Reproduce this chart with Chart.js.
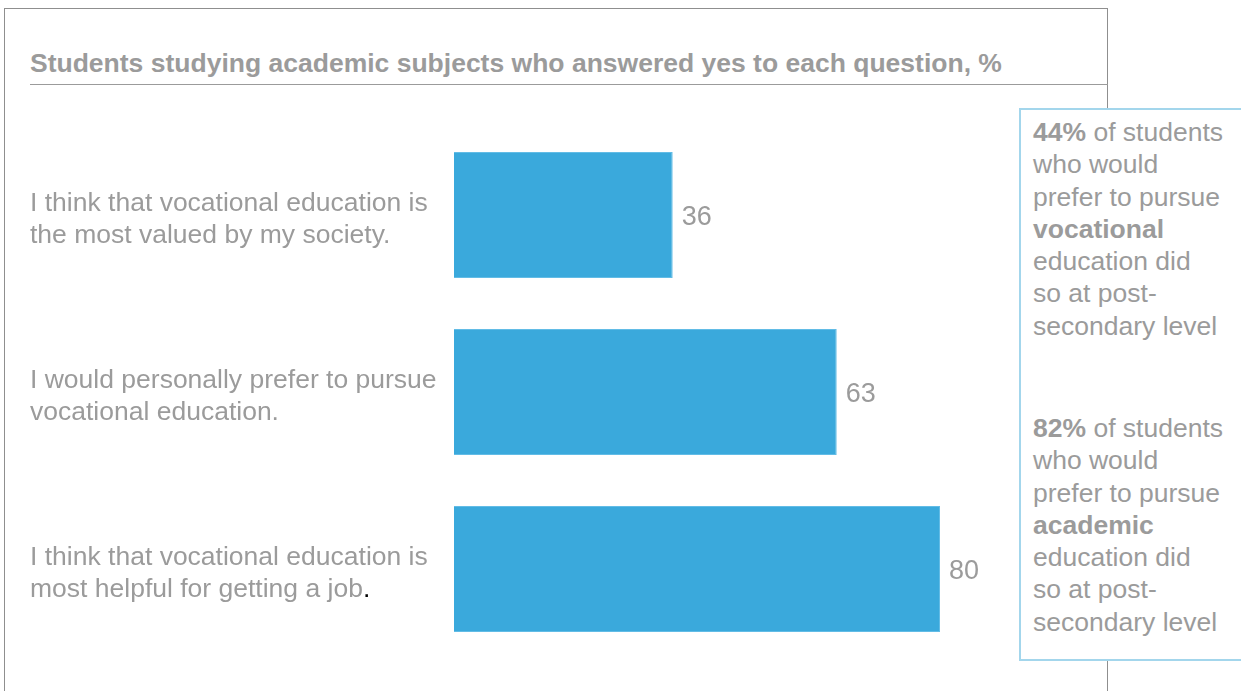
<!DOCTYPE html>
<html>
<head>
<meta charset="utf-8">
<script src="https://cdn.jsdelivr.net/npm/chart.js@4"></script>
<style>
  body { margin: 0; background: #fff; font-family: "Liberation Sans", Arial, sans-serif; }
  #wrap { position: relative; width: 1241px; height: 691px; overflow: hidden; }
  #frame { position: absolute; left: 4px; top: 8px; width: 1102px; height: 720px; border: 1px solid #8f8f8f; }
  #title { position: absolute; left: 30px; top: 48px; font-size: 26.5px; line-height: 30px; font-weight: bold; color: #9b9b9b; white-space: nowrap; }
  #rule { position: absolute; left: 30px; top: 84px; width: 1078px; height: 1px; background: #9b9b9b; }
  #chart--bar { position: absolute; left: 0; top: 0; }
  #side { position: absolute; left: 1019px; top: 108px; width: 260px; height: 549px; border: 2px solid #a3d6ec; background: #fff; color: #9b9b9b; font-size: 26.5px; line-height: 32.3px; }
  #side p { margin: 0; position: absolute; left: 12px; white-space: nowrap; }
</style>
</head>
<body>
<div id="wrap">
  <div id="frame"></div>
  <div id="title">Students studying academic subjects who answered yes to each question, %</div>
  <div id="rule"></div>
  <canvas id="chart--bar" width="1241" height="691"></canvas>
  <div id="side">
    <p style="top: 6px;"><b>44%</b> of students<br>who would<br>prefer to pursue<br><b>vocational</b><br>education did<br>so at post-<br>secondary level</p>
    <p style="top: 302px;"><b>82%</b> of students<br>who would<br>prefer to pursue<br><b>academic</b><br>education did<br>so at post-<br>secondary level</p>
  </div>
</div>
<script>
const labels_bar = [
    ['I think that vocational education is', 'the most valued by my society.'],
    ['I would personally prefer to pursue', 'vocational education.'],
    ['I think that vocational education is', 'most helpful for getting a job.']
];
const values_bar = [36, 63, 80];

const textFont = '"Liberation Sans", Arial, sans-serif';

// labels on the left and values next to the bars
const labelPlugin = {
    id: 'labelPlugin',
    afterDatasetsDraw(chart) {
        const ctx = chart.ctx;
        const meta = chart.getDatasetMeta(0);
        ctx.save();
        ctx.textBaseline = 'alphabetic';
        ctx.textAlign = 'left';
        meta.data.forEach((bar, i) => {
            ctx.fillStyle = '#9b9b9b';
            ctx.font = '27px ' + textFont;
            ctx.fillText(String(values_bar[i]), bar.x + 9, bar.y + 10);

            ctx.font = '26.5px ' + textFont;
            const lines = labels_bar[i];
            lines.forEach((line, j) => {
                const y = bar.y - 4 + j * 31.5;
                if (i === 2 && j === lines.length - 1) {
                    // the full stop on the last label is black in the original
                    const body = line.slice(0, -1);
                    ctx.fillStyle = '#9b9b9b';
                    ctx.fillText(body, 30, y);
                    ctx.fillStyle = '#000';
                    ctx.fillText('.', 30 + ctx.measureText(body).width, y);
                } else {
                    ctx.fillStyle = '#9b9b9b';
                    ctx.fillText(line, 30, y);
                }
            });
        });
        ctx.restore();
    }
};

const data_bar = {
    labels: labels_bar,
    datasets: [{
        data: values_bar,
        backgroundColor: '#3aa9dc',
        borderColor: '#62bce6',
        borderWidth: 1,
        barPercentage: 0.712,
        categoryPercentage: 1
    }]
};

const config_bar = {
    type: 'bar',
    data: data_bar,
    options: {
        indexAxis: 'y',
        responsive: false,
        animation: false,
        devicePixelRatio: 1,
        layout: {
            padding: { left: 454, right: 179.5, top: 126.5, bottom: 33.5 }
        },
        scales: {
            x: { display: false, min: 0, max: 100 },
            y: { display: false }
        },
        plugins: {
            legend: { display: false },
            tooltip: { enabled: false }
        }
    },
    plugins: [labelPlugin]
};
var chartbar = new Chart(
    document.getElementById('chart--bar'),
    config_bar
);
</script>
</body>
</html>
